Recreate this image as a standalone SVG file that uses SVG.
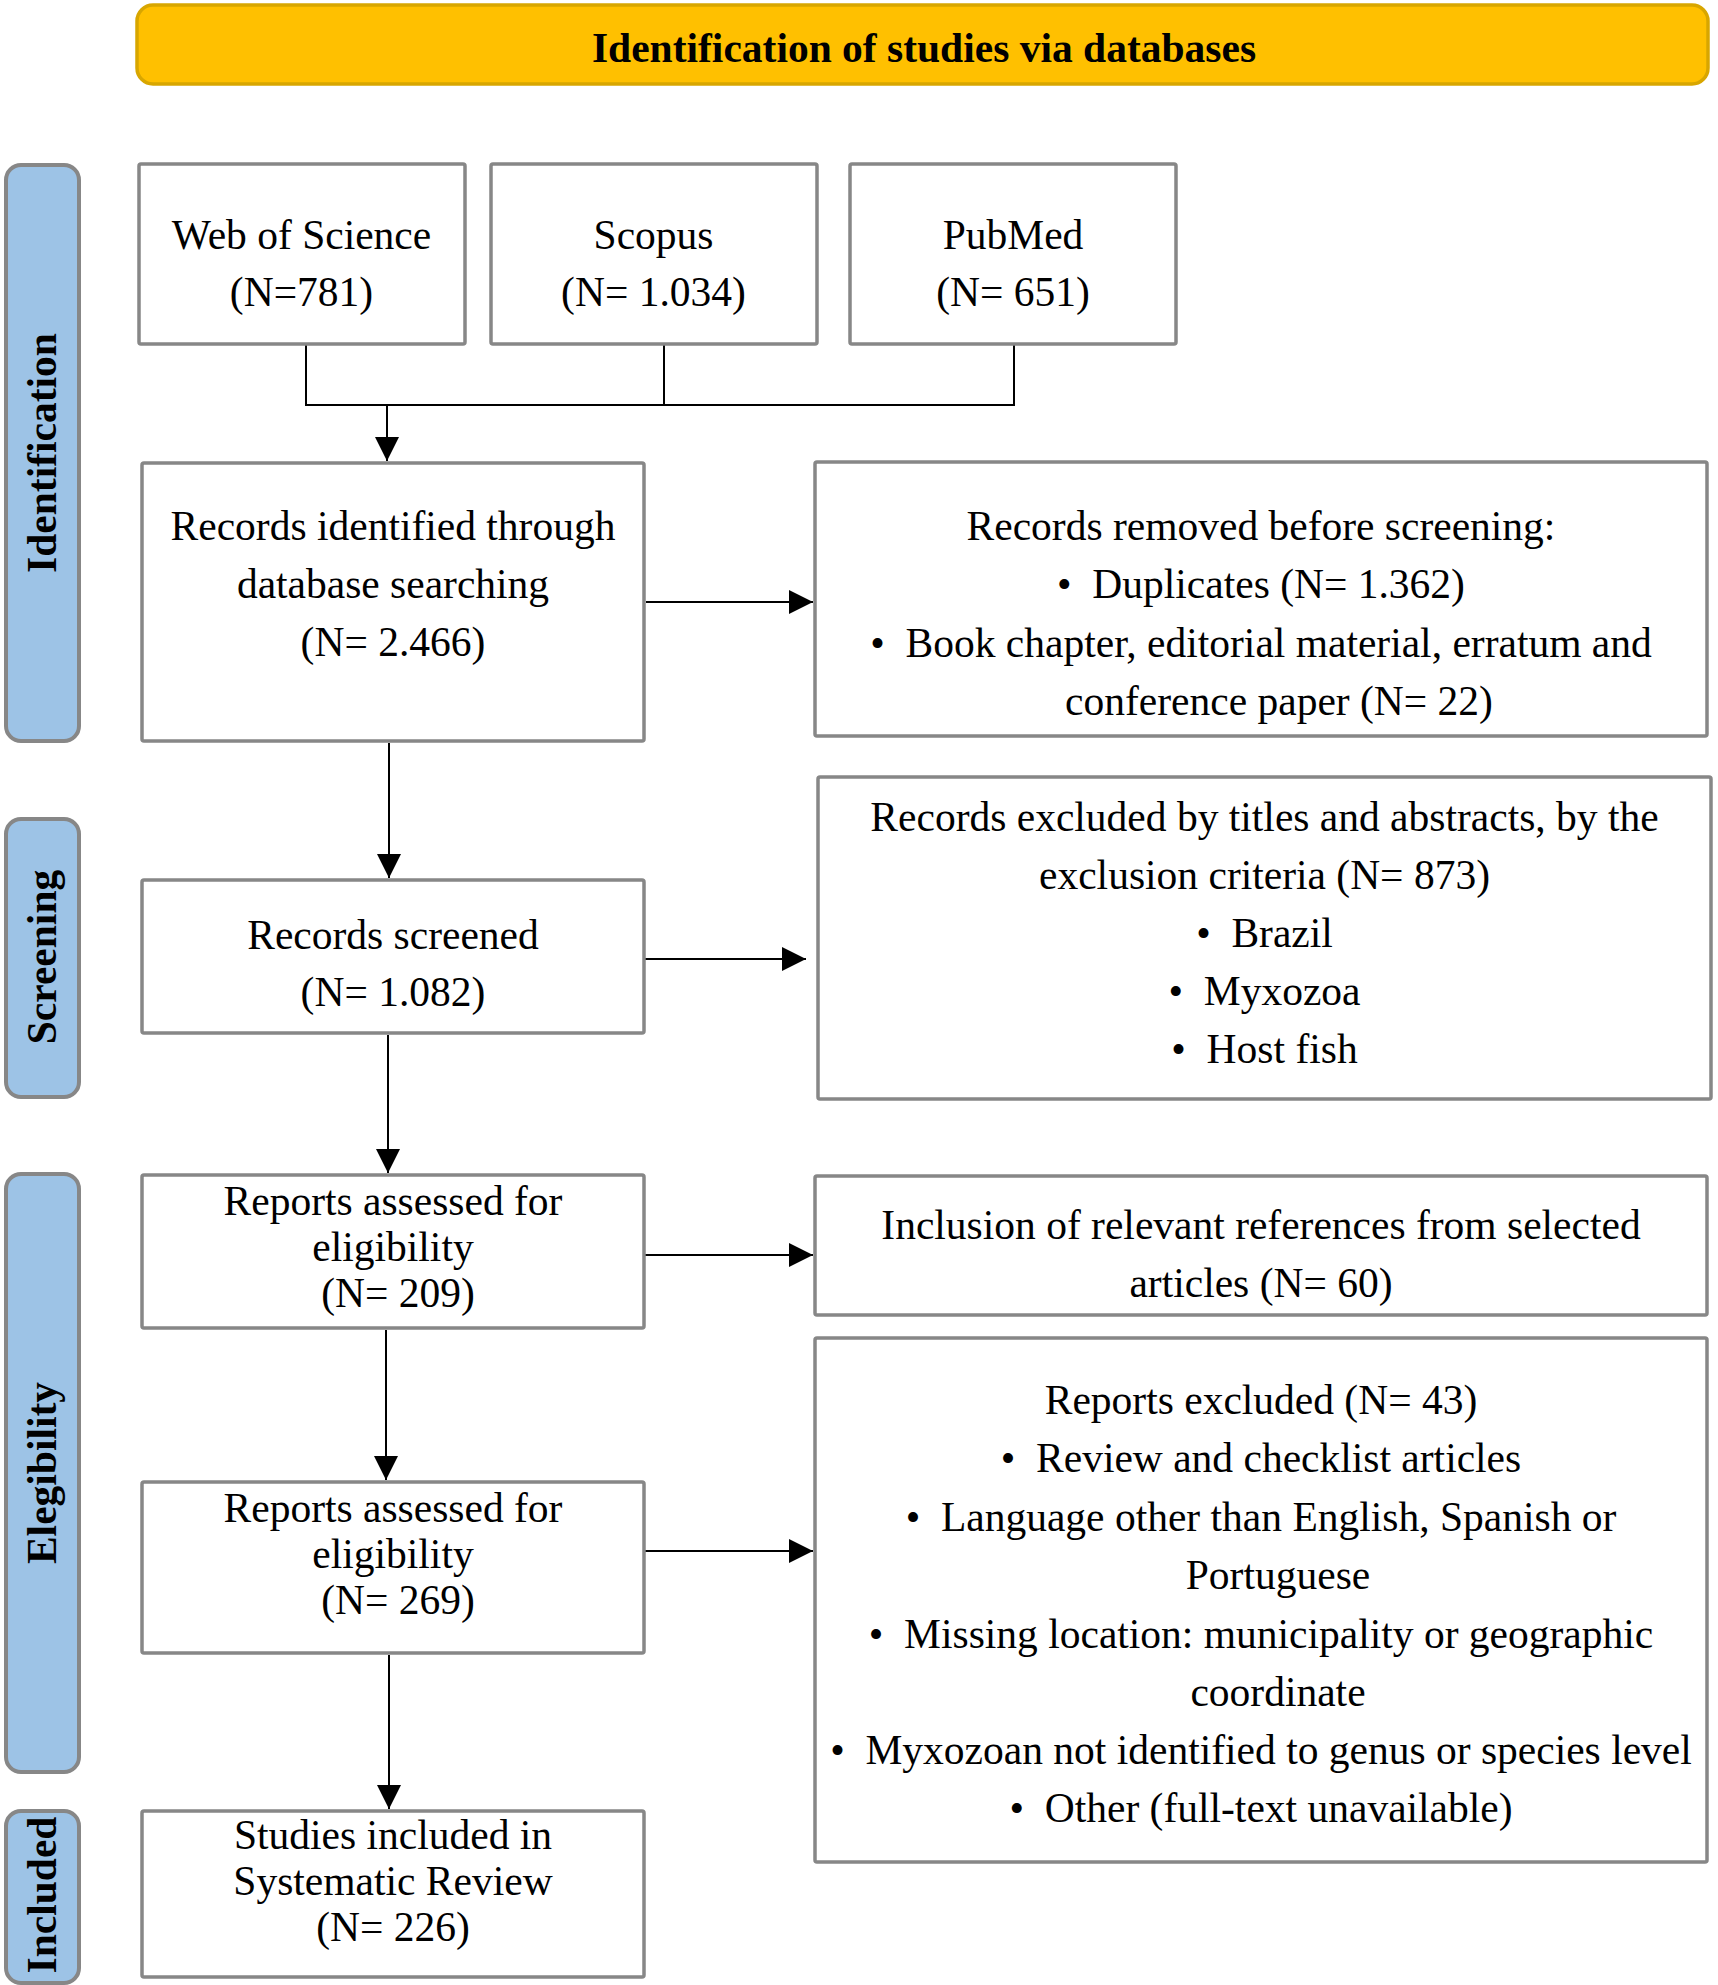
<svg xmlns="http://www.w3.org/2000/svg" width="1718" height="1985" viewBox="0 0 1718 1985">
<style>
  .bg { fill: #ffffff; }
  .box { fill: #ffffff; stroke: #878787; stroke-width: 3.5; }
  .side { fill: #9DC3E6; stroke: #878787; stroke-width: 4; }
  .banner { fill: #FFC000; stroke: #D8A600; stroke-width: 3.5; }
  .t { font-family: "Liberation Serif", "Times New Roman", serif; font-size: 41.5px; fill: #000000; text-anchor: middle; }
  .b { font-weight: bold; }
  .conn { fill: none; stroke: #000000; stroke-width: 2; }
</style>
<defs>
  <marker id="arrow" markerUnits="userSpaceOnUse" markerWidth="24" markerHeight="24" viewBox="0 0 24 24" refX="24" refY="12" orient="auto">
    <path d="M0,0 L24,12 L0,24 Z" fill="#000000"/>
  </marker>
</defs>
<rect class="bg" x="0" y="0" width="1718" height="1985"/>

<g id="banner">
  <rect class="banner" x="137" y="5" width="1571" height="79" rx="16"/>
  <text class="t b" x="924" y="62">Identification of studies via databases</text>
</g>

<g id="stage-identification">
  <rect class="side" x="6" y="165" width="73" height="576" rx="15"/>
  <text class="t b" transform="translate(55.5,453) rotate(-90)">Identification</text>
</g>
<g id="stage-screening">
  <rect class="side" x="6" y="819" width="73" height="278" rx="15"/>
  <text class="t b" transform="translate(55.5,957) rotate(-90)">Screening</text>
</g>
<g id="stage-eligibility">
  <rect class="side" x="6" y="1174" width="73" height="598" rx="15"/>
  <text class="t b" transform="translate(55.5,1473) rotate(-90)">Elegibility</text>
</g>
<g id="stage-included">
  <rect class="side" x="6" y="1811" width="73" height="172" rx="15"/>
  <text class="t b" transform="translate(55.5,1895) rotate(-90)">Included</text>
</g>

<g id="connectors">
  <path class="conn" d="M306,345 V405 H1014 V345"/>
  <path class="conn" d="M664,345 V405"/>
  <path class="conn" d="M387,405 V461" marker-end="url(#arrow)"/>
  <path class="conn" d="M646,602 H813" marker-end="url(#arrow)"/>
  <path class="conn" d="M389,743 V878" marker-end="url(#arrow)"/>
  <path class="conn" d="M637,959 H806" marker-end="url(#arrow)"/>
  <path class="conn" d="M388,1035 V1173" marker-end="url(#arrow)"/>
  <path class="conn" d="M645,1255 H813" marker-end="url(#arrow)"/>
  <path class="conn" d="M386,1330 V1480" marker-end="url(#arrow)"/>
  <path class="conn" d="M645,1551 H813" marker-end="url(#arrow)"/>
  <path class="conn" d="M389,1655 V1809" marker-end="url(#arrow)"/>
</g>

<g id="web-of-science">
  <rect class="box" x="139" y="164" width="326" height="180" rx="2"/>
  <text class="t" x="301.5" y="249">Web of Science</text>
  <text class="t" x="301.5" y="306">(N=781)</text>
</g>
<g id="scopus">
  <rect class="box" x="491" y="164" width="326" height="180" rx="2"/>
  <text class="t" x="653.5" y="249">Scopus</text>
  <text class="t" x="653.5" y="306">(N= 1.034)</text>
</g>
<g id="pubmed">
  <rect class="box" x="850" y="164" width="326" height="180" rx="2"/>
  <text class="t" x="1013" y="249">PubMed</text>
  <text class="t" x="1013" y="306">(N= 651)</text>
</g>

<g id="records-identified">
  <rect class="box" x="142" y="463" width="502" height="278" rx="2"/>
  <text class="t" x="393" y="540">Records identified through</text>
  <text class="t" x="393" y="598">database searching</text>
  <text class="t" x="393" y="656">(N= 2.466)</text>
</g>
<g id="records-removed">
  <rect class="box" x="815" y="462" width="892" height="274" rx="2"/>
  <text class="t" x="1261" y="540">Records removed before screening:</text>
  <text class="t" x="1261" y="598">•&#160;&#160;Duplicates (N= 1.362)</text>
  <text class="t" x="1261" y="657">•&#160;&#160;Book chapter, editorial material, erratum and</text>
  <text class="t" x="1279" y="715">conference paper (N= 22)</text>
</g>

<g id="records-screened">
  <rect class="box" x="142" y="880" width="502" height="153" rx="2"/>
  <text class="t" x="393" y="949">Records screened</text>
  <text class="t" x="393" y="1006">(N= 1.082)</text>
</g>
<g id="records-excluded">
  <rect class="box" x="818" y="777" width="893" height="322" rx="2"/>
  <text class="t" x="1264.5" y="831">Records excluded by titles and abstracts, by the</text>
  <text class="t" x="1264.5" y="889">exclusion criteria (N= 873)</text>
  <text class="t" x="1264.5" y="947">•&#160;&#160;Brazil</text>
  <text class="t" x="1264.5" y="1005">•&#160;&#160;Myxozoa</text>
  <text class="t" x="1264.5" y="1063">•&#160;&#160;Host fish</text>
</g>

<g id="reports-assessed-209">
  <rect class="box" x="142" y="1175" width="502" height="153" rx="2"/>
  <text class="t" x="393" y="1215">Reports assessed for</text>
  <text class="t" x="393" y="1261">eligibility</text>
  <text class="t" x="398" y="1307">(N= 209)</text>
</g>
<g id="inclusion-references">
  <rect class="box" x="815" y="1176" width="892" height="139" rx="2"/>
  <text class="t" x="1261" y="1239">Inclusion of relevant references from selected</text>
  <text class="t" x="1261" y="1297">articles (N= 60)</text>
</g>

<g id="reports-assessed-269">
  <rect class="box" x="142" y="1482" width="502" height="171" rx="2"/>
  <text class="t" x="393" y="1522">Reports assessed for</text>
  <text class="t" x="393" y="1568">eligibility</text>
  <text class="t" x="398" y="1614">(N= 269)</text>
</g>
<g id="reports-excluded">
  <rect class="box" x="815" y="1338" width="892" height="524" rx="2"/>
  <text class="t" x="1261" y="1414">Reports excluded (N= 43)</text>
  <text class="t" x="1261" y="1472">•&#160;&#160;Review and checklist articles</text>
  <text class="t" x="1261" y="1531">•&#160;&#160;Language other than English, Spanish or</text>
  <text class="t" x="1278" y="1589">Portuguese</text>
  <text class="t" x="1261" y="1648">•&#160;&#160;Missing location: municipality or geographic</text>
  <text class="t" x="1278" y="1706">coordinate</text>
  <text class="t" x="1261" y="1764">•&#160;&#160;Myxozoan not identified to genus or species level</text>
  <text class="t" x="1261" y="1822">•&#160;&#160;Other (full-text unavailable)</text>
</g>

<g id="studies-included">
  <rect class="box" x="142" y="1811" width="502" height="166" rx="2"/>
  <text class="t" x="393" y="1849">Studies included in</text>
  <text class="t" x="393" y="1895">Systematic Review</text>
  <text class="t" x="393" y="1941">(N= 226)</text>
</g>
</svg>
